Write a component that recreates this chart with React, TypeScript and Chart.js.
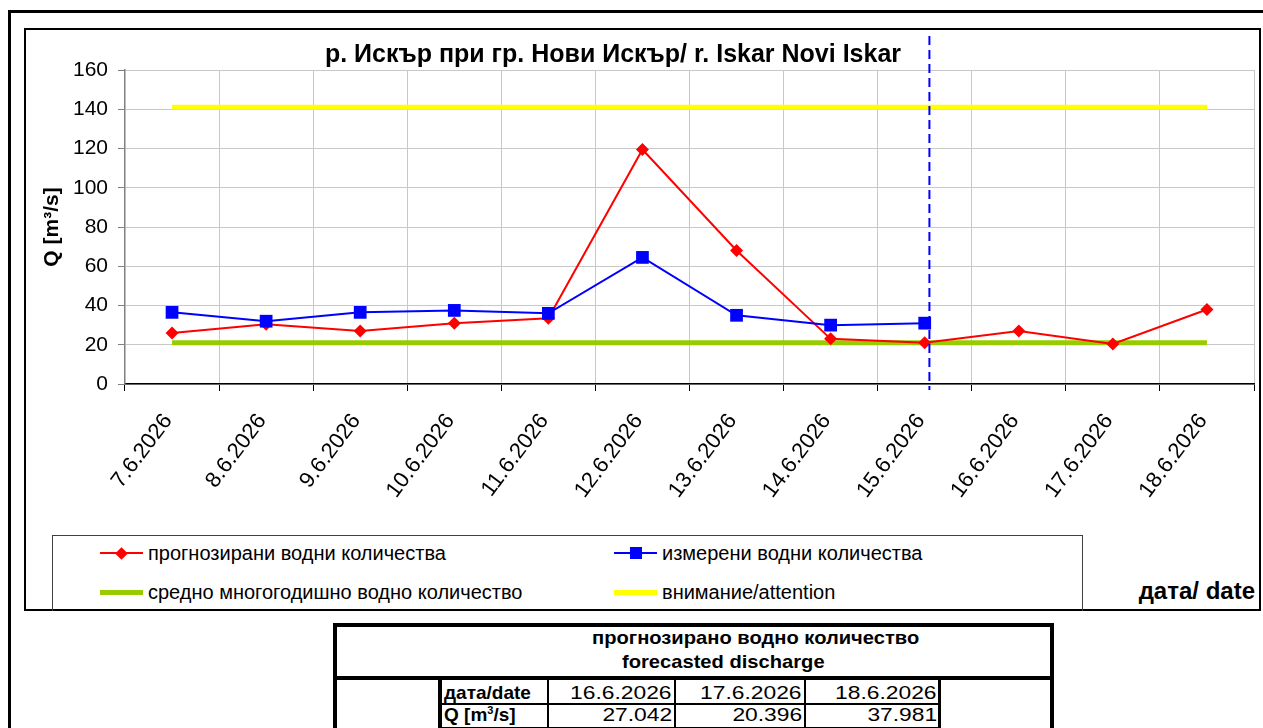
import React, { useEffect, useRef } from "react";
import { Chart, registerables } from "chart.js";

Chart.register(...registerables);

// ---------- data ----------
const categories = [
  "7.6.2026", "8.6.2026", "9.6.2026", "10.6.2026", "11.6.2026", "12.6.2026",
  "13.6.2026", "14.6.2026", "15.6.2026", "16.6.2026", "17.6.2026", "18.6.2026",
];
const forecastValues = [26, 30.5, 27, 31, 33.5, 119.5, 68, 23, 21, 27.042, 20.396, 37.981];
const measuredValues: (number | null)[] = [36.5, 32, 36.5, 37.5, 36, 64.5, 35, 30, 31, null, null, null];
const meanLevel = 21;
const attentionLevel = 141;
const forecastStartIndex = 8;
const yMin = 0;
const yMax = 160;
const yStep = 20;

const chartTitle = "р. Искър при гр. Нови Искър/ r. Iskar Novi Iskar";
const yAxisTitle = "Q [m³/s]";
const xAxisTitle = "дата/ date";
const legendForecast = "прогнозирани водни количества";
const legendMeasured = "измерени водни количества";
const legendMean = "средно многогодишно водно количество";
const legendAttention = "внимание/attention";
const tableHeader1 = "прогнозирано водно количество";
const tableHeader2 = "forecasted discharge";
const tableDateLabel = "дата/date";
const tableDates = categories.slice(9);
const tableValues = forecastValues.slice(9).map((v) => v.toFixed(3));

const FONT = "'Liberation Sans', Arial, Helvetica, sans-serif";
const RED = "#FF0000";
const BLUE = "#0000FF";
const GREEN = "#99CC00";
const YELLOW = "#FFFF00";

const dividerPlugin = {
  id: "forecastDivider",
  afterDatasetsDraw(chart: any) {
    const xs = chart.scales.x;
    const p0 = xs.getPixelForValue(forecastStartIndex);
    const p1 = xs.getPixelForValue(forecastStartIndex + 1);
    const px = p0 + (p1 - p0) * 0.05;
    const { top, bottom } = chart.chartArea;
    const ctx = chart.ctx;
    ctx.save();
    ctx.strokeStyle = BLUE;
    ctx.lineWidth = 2;
    ctx.setLineDash([9, 5]);
    ctx.beginPath();
    ctx.moveTo(px, top - 34);
    ctx.lineTo(px, bottom + 6);
    ctx.stroke();
    ctx.restore();
  },
};

function LegendItem(props: { x: number; y: number; color: string; thick?: boolean; marker?: "diamond" | "square"; label: string }) {
  const { x, y, color, thick, marker, label } = props;
  return (
    <>
      <div style={{ position: "absolute", left: x, top: y - (thick ? 2.5 : 1), width: 43, height: thick ? 5 : 2, background: color }} />
      {marker === "diamond" && (
        <div style={{ position: "absolute", left: x + 21.5 - 4.5, top: y - 4.5, width: 9, height: 9, background: color, transform: "rotate(45deg)" }} />
      )}
      {marker === "square" && (
        <div style={{ position: "absolute", left: x + 21.5 - 6, top: y - 6, width: 12, height: 12, background: color }} />
      )}
      <div style={{ position: "absolute", left: x + 48, top: y - 12, height: 24, lineHeight: "24px", fontSize: 20, whiteSpace: "nowrap", color: "#000" }}>
        {label}
      </div>
    </>
  );
}

export default function App() {
  const canvasRef = useRef<HTMLCanvasElement>(null);

  useEffect(() => {
    const canvas = canvasRef.current!;
    const chart = new Chart(canvas, {
      type: "line",
      data: {
        labels: categories,
        datasets: [
          {
            label: legendMeasured,
            data: measuredValues,
            borderColor: BLUE,
            backgroundColor: BLUE,
            borderWidth: 2,
            pointStyle: "rect",
            pointRadius: 9,
            pointBorderWidth: 0,
            tension: 0,
            spanGaps: false,
            order: 1,
          },
          {
            label: legendForecast,
            data: forecastValues,
            borderColor: RED,
            backgroundColor: RED,
            borderWidth: 2,
            pointStyle: "rectRot",
            pointRadius: 6.5,
            pointBorderWidth: 0,
            tension: 0,
            order: 2,
          },
          {
            label: legendMean,
            data: categories.map(() => meanLevel),
            borderColor: GREEN,
            borderWidth: 5,
            pointRadius: 0,
            order: 3,
          },
          {
            label: legendAttention,
            data: categories.map(() => attentionLevel),
            borderColor: YELLOW,
            borderWidth: 5,
            pointRadius: 0,
            order: 4,
          },
        ],
      },
      options: {
        responsive: false,
        animation: false,
        events: [],
        layout: { padding: { left: 30, top: 70, right: 4, bottom: 0 } },
        plugins: {
          legend: { display: false },
          title: { display: false },
          tooltip: { enabled: false },
        },
        scales: {
          x: {
            type: "category",
            offset: true,
            grid: {
              offset: true,
              color: "#c8c8c8",
              lineWidth: 1,
              tickLength: 7,
              tickColor: "#000000",
              drawOnChartArea: true,
            },
            border: { color: "#000000", width: 1.5 },
            ticks: {
              color: "#000000",
              font: { family: FONT, size: 22 },
              minRotation: 53,
              maxRotation: 53,
              autoSkip: false,
              padding: 18,
              labelOffset: -4,
            },
            afterFit(scale: any) {
              scale.height = 146;
            },
          },
          y: {
            min: yMin,
            max: yMax,
            grid: {
              color: "#c8c8c8",
              lineWidth: 1,
              tickLength: 7,
              tickColor: "#808080",
            },
            border: { color: "#808080", width: 1.5 },
            ticks: {
              stepSize: yStep,
              color: "#000000",
              font: { family: FONT, size: 21 },
              padding: 10,
            },
            title: {
              display: true,
              text: yAxisTitle,
              color: "#000000",
              font: { family: FONT, size: 21, weight: "bold" },
              padding: { top: 10, bottom: 0 },
            },
            afterFit(scale: any) {
              scale.width = 95;
            },
          },
        },
      },
      plugins: [dividerPlugin],
    } as any);
    return () => chart.destroy();
  }, []);

  const cellText: React.CSSProperties = { position: "absolute", fontSize: 19, lineHeight: "23px", height: 23, whiteSpace: "nowrap" };
  const rights = [672, 802, 937];

  return (
    <div style={{ position: "absolute", left: 0, top: 0, width: 1263, height: 728, overflow: "hidden", background: "#fff", fontFamily: FONT, color: "#000" }}>
      {/* outer frame */}
      <div style={{ position: "absolute", left: 8, top: 10, width: 1300, height: 800, border: "3px solid #000", boxSizing: "border-box" }} />
      {/* inner chart frame */}
      <div style={{ position: "absolute", left: 24, top: 28, width: 1237, height: 583, border: "2px solid #000", boxSizing: "border-box" }} />

      <canvas ref={canvasRef} width={1263} height={530} style={{ position: "absolute", left: 0, top: 0, width: 1263, height: 530 }} />

      {/* chart title */}
      <div style={{ position: "absolute", left: 213, width: 800, top: 40, height: 26, lineHeight: "26px", textAlign: "center", fontSize: 25, fontWeight: "bold", whiteSpace: "nowrap" }}>
        {chartTitle}
      </div>

      {/* legend */}
      <div style={{ position: "absolute", left: 52, top: 535, width: 1031, height: 76, border: "1px solid #404040", borderBottom: "none", boxSizing: "border-box" }} />
      <LegendItem x={100} y={553} color={RED} marker="diamond" label={legendForecast} />
      <LegendItem x={614} y={553} color={BLUE} marker="square" label={legendMeasured} />
      <LegendItem x={100} y={592} color={GREEN} thick label={legendMean} />
      <LegendItem x={614} y={592} color={YELLOW} thick label={legendAttention} />

      {/* x axis title */}
      <div style={{ position: "absolute", left: 1055, width: 200, top: 577, height: 28, lineHeight: "28px", textAlign: "right", fontSize: 24, fontWeight: "bold", whiteSpace: "nowrap" }}>
        {xAxisTitle}
      </div>

      {/* forecast table */}
      <div style={{ position: "absolute", left: 333, top: 623, width: 721, height: 130, border: "4px solid #000", boxSizing: "border-box" }} />
      <div style={{ position: "absolute", left: 337, top: 676, width: 713, height: 4, background: "#000" }} />
      <div style={{ position: "absolute", left: 592, top: 626, height: 24, lineHeight: "24px", fontSize: 19, fontWeight: "bold", whiteSpace: "nowrap", transform: "scaleX(1.06)", transformOrigin: "left center" }}>
        {tableHeader1}
      </div>
      <div style={{ position: "absolute", left: 622, top: 650, height: 24, lineHeight: "24px", fontSize: 19, fontWeight: "bold", whiteSpace: "nowrap", transform: "scaleX(1.06)", transformOrigin: "left center" }}>
        {tableHeader2}
      </div>
      {/* vertical separators */}
      <div style={{ position: "absolute", left: 438, top: 680, width: 4, height: 60, background: "#000" }} />
      <div style={{ position: "absolute", left: 547, top: 680, width: 2, height: 60, background: "#000" }} />
      <div style={{ position: "absolute", left: 674, top: 680, width: 2, height: 60, background: "#000" }} />
      <div style={{ position: "absolute", left: 804, top: 680, width: 2, height: 60, background: "#000" }} />
      <div style={{ position: "absolute", left: 938, top: 680, width: 3, height: 60, background: "#000" }} />
      {/* row separators */}
      <div style={{ position: "absolute", left: 440, top: 703, width: 500, height: 2, background: "#000" }} />
      <div style={{ position: "absolute", left: 440, top: 727, width: 500, height: 2, background: "#000" }} />
      {/* row labels */}
      <div style={{ ...cellText, left: 444, top: 681, fontWeight: "bold" }}>{tableDateLabel}</div>
      <div style={{ ...cellText, left: 444, top: 705, fontWeight: "bold", lineHeight: "20px", height: 20 }}>
        Q [m<span style={{ position: "relative", top: -7, fontSize: 11 }}>3</span>/s]
      </div>
      {tableDates.map((d, i) => (
        <div key={"d" + i} style={{ ...cellText, left: rights[i] - 200, width: 200, top: 681, textAlign: "right" }}>
          <span style={{ display: "inline-block", transform: "scaleX(1.2)", transformOrigin: "right center" }}>{d}</span>
        </div>
      ))}
      {tableValues.map((v, i) => (
        <div key={"v" + i} style={{ ...cellText, left: rights[i] - 200, width: 200, top: 703, textAlign: "right" }}>
          <span style={{ display: "inline-block", transform: "scaleX(1.2)", transformOrigin: "right center" }}>{v}</span>
        </div>
      ))}
    </div>
  );
}
